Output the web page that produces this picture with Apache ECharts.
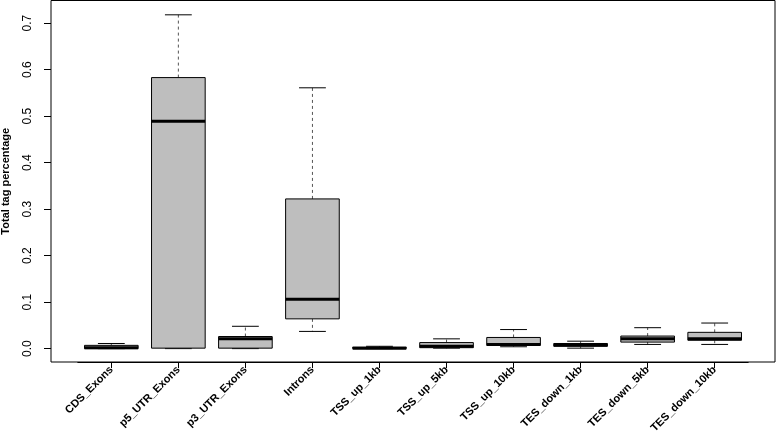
<!DOCTYPE html>
<html>
<head>
<meta charset="utf-8">
<script src="https://cdn.jsdelivr.net/npm/echarts@6/dist/echarts.min.js"></script>
<style>html,body{margin:0;padding:0;background:#fff;}#c{width:777px;height:432px;}</style>
</head>
<body>
<div id="c"></div>
<script>
const categories = ['CDS_Exons','p5_UTR_Exons','p3_UTR_Exons','Introns','TSS_up_1kb','TSS_up_5kb','TSS_up_10kb','TES_down_1kb','TES_down_5kb','TES_down_10kb'];
const mins    = [0.000, 0.000, 0.000, 0.037, 0.0000, 0.001, 0.004, 0.001, 0.009, 0.009];
const q1s     = [0.000, 0.001, 0.001, 0.064, 0.0003, 0.002, 0.007, 0.005, 0.014, 0.018];
const medians = [0.002, 0.489, 0.021, 0.106, 0.0010, 0.005, 0.009, 0.008, 0.021, 0.021];
const q3s     = [0.007, 0.583, 0.026, 0.322, 0.0030, 0.013, 0.024, 0.011, 0.027, 0.035];
const maxs    = [0.011, 0.718, 0.048, 0.561, 0.0050, 0.021, 0.041, 0.016, 0.045, 0.055];
const yTicks  = [0, 0.1, 0.2, 0.3, 0.4, 0.5, 0.6, 0.7];

const data = categories.map((c, i) => [i, mins[i], q1s[i], medians[i], q3s[i], maxs[i]]);
const yMin = -0.0288, yMax = 0.7488;
const FONT = 'Liberation Sans, Arial, Helvetica, sans-serif';

const chart = echarts.init(document.getElementById('c'));
chart.setOption({
  animation: false,
  backgroundColor: '#fff',
  grid: [
    {left: 51, right: 2, top: 0.5, bottom: 70, show: true, borderColor: '#000', borderWidth: 1, backgroundColor: 'transparent', outerBoundsMode: 'none'},
    {left: 77.8, right: 28.8, top: 0.5, bottom: 70, outerBoundsMode: 'none'}
  ],
  xAxis: [
    {gridIndex: 1, type: 'category', data: categories, position: 'bottom',
     axisLine: {show: true, onZero: false, lineStyle: {color: '#000', width: 1}},
     axisTick: {show: true, alignWithLabel: true, length: 6, lineStyle: {color: '#000', width: 1}},
     axisLabel: {show: true, rotate: 45, fontFamily: FONT, fontWeight: 'bold', fontSize: 11, color: '#000', margin: 6, interval: 0},
     splitLine: {show: false}},
    {gridIndex: 0, type: 'value', show: false, min: 0, max: 1, axisLine: {onZero: false}}
  ],
  yAxis: [
    {gridIndex: 0, type: 'value', min: yMin, max: yMax,
     name: 'Total tag percentage', nameLocation: 'middle', nameRotate: 90, nameGap: 40, nameMoveOverlap: false,
     nameTextStyle: {fontFamily: FONT, fontWeight: 'bold', fontSize: 11, color: '#000'},
     axisLine: {show: false, onZero: false},
     axisTick: {show: true, length: 7, customValues: yTicks, lineStyle: {color: '#000'}},
     axisLabel: {rotate: 90, customValues: yTicks, fontFamily: FONT, fontSize: 12, color: '#000', margin: 17,
                 align: 'center', verticalAlign: 'bottom',
                 formatter: v => v.toFixed(1)},
     splitLine: {show: false}},
    {gridIndex: 1, type: 'value', min: yMin, max: yMax, show: false, splitLine: {show: false}, axisLine: {onZero: false}}
  ],
  series: [{
    type: 'custom',
    xAxisIndex: 0, yAxisIndex: 1,
    data: data,
    clip: false,
    renderItem: function (params, api) {
      const idx = api.value(0);
      const pMin = api.coord([idx, api.value(1)]);
      const pQ1 = api.coord([idx, api.value(2)]);
      const pMed = api.coord([idx, api.value(3)]);
      const pQ3 = api.coord([idx, api.value(4)]);
      const pMax = api.coord([idx, api.value(5)]);
      const bw = api.size([1, 0])[0];
      const x = pMed[0];
      const hb = bw * 0.4, hc = bw * 0.2;
      const dash = {stroke: '#555', lineWidth: 1, lineDash: [3, 3]};
      const solid = {stroke: '#000', lineWidth: 1};
      return {
        type: 'group',
        children: [
          {type: 'line', shape: {x1: x, y1: pQ3[1], x2: x, y2: pMax[1]}, style: dash},
          {type: 'line', shape: {x1: x, y1: pQ1[1], x2: x, y2: pMin[1]}, style: dash},
          {type: 'line', shape: {x1: x - hc, y1: pMax[1], x2: x + hc, y2: pMax[1]}, style: solid},
          {type: 'line', shape: {x1: x - hc, y1: pMin[1], x2: x + hc, y2: pMin[1]}, style: solid},
          {type: 'rect', shape: {x: x - hb, y: pQ3[1], width: hb * 2, height: pQ1[1] - pQ3[1]},
           style: {fill: '#bebebe', stroke: '#000', lineWidth: 1}},
          {type: 'line', shape: {x1: x - hb, y1: pMed[1], x2: x + hb, y2: pMed[1]}, style: {stroke: '#000', lineWidth: 3}}
        ]
      };
    }
  }]
});
</script>
</body>
</html>
